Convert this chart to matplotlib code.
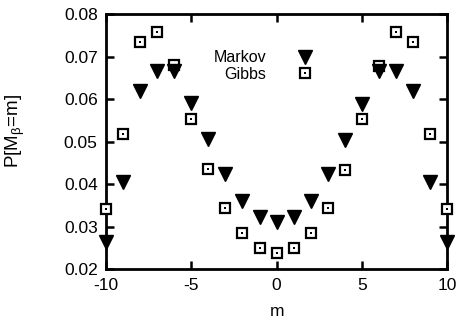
import matplotlib
matplotlib.use("Agg")
import matplotlib.pyplot as plt

plt.rcParams['font.family'] = ['Liberation Sans', 'DejaVu Sans']
plt.rcParams['mathtext.fontset'] = 'custom'
plt.rcParams['mathtext.rm'] = 'Liberation Sans'
plt.rcParams['mathtext.it'] = 'Liberation Sans'

m_values = list(range(-10, 11))
markov = [0.0265, 0.0406, 0.0620, 0.0667, 0.0665, 0.0591, 0.0506, 0.0423, 0.0361, 0.0324, 0.0312,
          0.0324, 0.0361, 0.0424, 0.0504, 0.0589, 0.0665, 0.0667, 0.0620, 0.0406, 0.0265]
gibbs = [0.0341, 0.0517, 0.0733, 0.0758, 0.0679, 0.0553, 0.0436, 0.0344, 0.0285, 0.0249, 0.0239,
         0.0251, 0.0285, 0.0344, 0.0434, 0.0554, 0.0678, 0.0758, 0.0734, 0.0518, 0.0341]
y_ticks = [0.02, 0.03, 0.04, 0.05, 0.06, 0.07, 0.08]
y_tick_labels = ['0.02', '0.03', '0.04', '0.05', '0.06', '0.07', '0.08']
x_ticks = [-10, -5, 0, 5, 10]
x_tick_labels = ['-10', '-5', '0', '5', '10']

fig = plt.figure(figsize=(4.58, 3.30), dpi=100)
ax = fig.add_axes([0.2314, 0.184, 0.745, 0.7736])

ax.plot(m_values, gibbs, linestyle='none', marker='s', markersize=7.5, markerfacecolor='white',
        markeredgecolor='black', markeredgewidth=1.6, clip_on=False, zorder=3)
ax.plot(m_values, gibbs, linestyle='none', marker='s', markersize=1.6, markerfacecolor='black',
        markeredgecolor='black', markeredgewidth=0, clip_on=False, zorder=3)
ax.plot(m_values, markov, linestyle='none', marker='v', markersize=10, color='black',
        clip_on=False, zorder=4)

# legend (manual, text right-aligned)
ax.text(0.47, 0.812, 'Markov', transform=ax.transAxes, ha='right', va='baseline', fontsize=11.5)
ax.text(0.47, 0.747, 'Gibbs', transform=ax.transAxes, ha='right', va='baseline', fontsize=11.5)
ax.plot([0.582], [0.830], transform=ax.transAxes, marker='v', markersize=10, color='black',
        linestyle='none', clip_on=False)
ax.plot([0.582], [0.768], transform=ax.transAxes, marker='s', markersize=7.5, markerfacecolor='white',
        markeredgecolor='black', markeredgewidth=1.6, linestyle='none', clip_on=False)
ax.plot([0.582], [0.768], transform=ax.transAxes, marker='s', markersize=1.6, markerfacecolor='black',
        markeredgewidth=0, linestyle='none', clip_on=False)

ax.set_xlim(-10, 10)
ax.set_ylim(0.02, 0.08)
ax.set_yticks(y_ticks)
ax.set_yticklabels(y_tick_labels)
ax.set_xticks(x_ticks)
ax.set_xticklabels(x_tick_labels)

ax.tick_params(direction='in', length=6, width=1.8, top=True, right=True, labelsize=12.5, pad=6)
for s in ax.spines.values():
    s.set_linewidth(2)

ax.set_xlabel('m', fontsize=12.5, labelpad=8)
ax.set_ylabel(r'P[M$_\beta$=m]', fontsize=13.5)
ax.yaxis.set_label_coords(-0.232, 0.54)

fig.savefig('out.png', dpi=100)
